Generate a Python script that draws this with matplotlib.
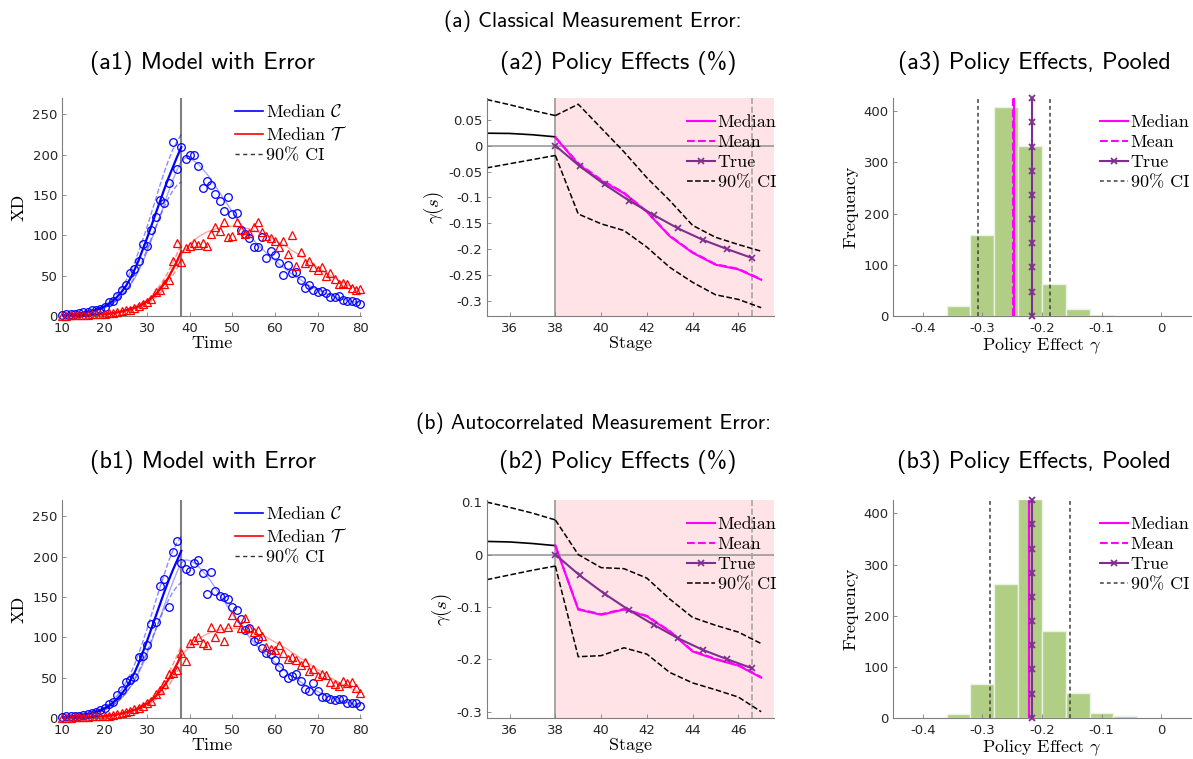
import numpy as np
import matplotlib
matplotlib.use('Agg')
import matplotlib.pyplot as plt
from matplotlib.lines import Line2D

plt.rcParams['mathtext.fontset'] = 'cm'
plt.rcParams['axes.unicode_minus'] = False

# ---------------- data ----------------
time = np.arange(10, 81)
time_pre = np.arange(10, 39)

# (a1) observed with classical error
a1_obs_c = [1, 2, 2, 3, 4, 5, 5, 7, 8, 9,
            11, 17, 19, 25, 32, 38, 53, 58, 68, 89,
            87, 107, 122, 144, 140, 165, 215, 182, 209, 195,
            200, 199, 186, 158, 167, 162, 151, 143, 130, 147,
            126, 127, 106, 101, 96, 86, 86, 98, 72, 81,
            75, 65, 51, 63, 53, 55, 44, 35, 38, 32,
            30, 31, 29, 24, 24, 25, 20, 19, 19, 17, 15]
a1_obs_t = [0, 0, 1, 1, 1, 1, 1, 2, 2, 2,
            3, 4, 4, 5, 6, 7, 8, 10, 12, 15,
            17, 21, 30, 32, 40, 44, 68, 91, 67, 84,
            87, 91, 88, 90, 87, 101, 110, 105, 116, 98,
            99, 117, 107, 102, 103, 110, 117, 104, 99, 97,
            93, 85, 93, 77, 100, 62, 79, 65, 68, 61,
            57, 61, 50, 53, 46, 40, 41, 39, 35, 32, 33]
# (b1) observed with autocorrelated error
b1_obs_c = [1, 2, 2, 2, 3, 4, 5, 6, 7, 10,
            13, 17, 20, 28, 35, 45, 47, 51, 76, 77,
            90, 116, 119, 164, 172, 137, 206, 219, 192, 185,
            182, 192, 196, 179, 154, 181, 157, 151, 150, 147,
            138, 134, 123, 109, 112, 95, 98, 87, 81, 79,
            72, 63, 56, 49, 52, 55, 46, 36, 34, 43,
            34, 26, 26, 23, 22, 23, 24, 19, 19, 18, 15]
b1_obs_t = [0, 0, 0, 1, 1, 1, 1, 2, 2, 2,
            3, 3, 4, 5, 6, 7, 9, 11, 13, 15,
            18, 21, 30, 35, 42, 55, 56, 60, 80, 70,
            93, 97, 100, 93, 90, 113, 100, 112, 96, 113,
            127, 119, 112, 124, 111, 107, 109, 102, 88, 86,
            84, 91, 80, 73, 75, 72, 66, 69, 58, 61,
            52, 54, 53, 44, 42, 40, 46, 43, 44, 37, 31]

# true paths (light curves)
true_c = [1, 1, 2, 2, 3, 4, 4, 5, 7, 8,
          10, 13, 16, 20, 25, 31, 38, 46, 56, 67,
          80, 94, 109, 124, 139, 154, 168, 181, 192, 196,
          195, 192, 188, 182, 176, 169, 161, 153, 145, 137,
          129, 121, 114, 107, 100, 94, 88, 83, 78, 73,
          69, 64, 60, 56, 52, 48, 45, 41, 38, 35,
          33, 30, 28, 26, 24, 22, 21, 19, 18, 17, 16]
true_t = [0, 0, 0, 0.5, 0.5, 0.5, 1, 1, 1, 1.5,
          2, 2.5, 3, 4, 5, 6, 7, 9, 11, 14,
          17, 21, 26, 32, 39, 47, 56, 66, 76, 83,
          89, 94, 98, 101, 104, 106, 108, 109, 110, 111,
          111, 111, 110, 109, 108, 106, 104, 102, 100, 97,
          94, 91, 88, 85, 81, 78, 74, 71, 67, 64,
          60, 57, 53, 50, 47, 44, 41, 39, 36, 34, 32]

# pre-period medians and 90% CIs (t = 10..38)
a1_med_c = [1, 1.5, 2, 2.5, 3, 4, 5, 6, 7.5, 9.5,
            12, 15, 19, 24, 30, 37, 46, 57, 69, 83,
            97, 112, 127, 142, 157, 171, 184, 197, 209]
a1_up_c = [1.5, 2, 2.5, 3, 4, 5, 6, 7.5, 9, 11,
           14, 17, 22, 28, 35, 44, 54, 66, 80, 95,
           111, 128, 145, 162, 178, 193, 206, 216, 225]
a1_lo_c = [0.5, 1, 1.5, 2, 2.5, 3, 4, 5, 6, 8,
           10, 13, 16, 20, 25, 31, 39, 48, 58, 70,
           83, 97, 110, 123, 135, 146, 155, 162, 166]
a1_med_t = [0, 0, 0, 0.5, 0.5, 1, 1, 1, 1.5, 2,
            2, 3, 3.5, 4.5, 5.5, 7, 8.5, 10, 12, 15,
            18, 22, 27, 33, 40, 48, 58, 68, 80]
a1_up_t = [0, 0.5, 0.5, 1, 1, 1.5, 1.5, 2, 2, 2.5,
           3, 3.5, 4, 5, 6.5, 8, 10, 12, 14, 17,
           20, 25, 31, 38, 46, 55, 66, 77, 89]
a1_lo_t = [0, 0, 0, 0, 0.5, 0.5, 0.5, 1, 1, 1.5,
           1.5, 2, 3, 4, 5, 6, 7, 8, 10, 13,
           16, 19, 23, 28, 34, 41, 50, 59, 69]

b1_med_c = [1, 1.5, 2, 2.5, 3, 4, 5, 6, 7.5, 9.5,
            12, 15, 19, 24, 30, 37, 46, 56, 68, 82,
            96, 111, 126, 141, 156, 170, 183, 195, 207]
b1_up_c = [1.5, 2, 2.5, 3, 4, 5, 6, 7.5, 9, 11,
           14, 17, 22, 28, 35, 44, 54, 66, 80, 95,
           111, 128, 145, 162, 178, 194, 207, 217, 225]
b1_lo_c = [0.5, 1, 1.5, 2, 2.5, 3, 4, 5, 6, 8,
           10, 13, 16, 20, 25, 31, 39, 48, 58, 70,
           83, 97, 110, 123, 135, 146, 156, 163, 168]
b1_med_t = [0, 0, 0, 0.5, 0.5, 1, 1, 1, 1.5, 2,
            2, 3, 3.5, 4.5, 5.5, 7, 8.5, 10, 12, 15,
            18, 22, 27, 33, 40, 48, 57, 67, 78]
b1_up_t = a1_up_t
b1_lo_t = [0, 0, 0, 0, 0.5, 0.5, 0.5, 1, 1, 1.5,
           1.5, 2, 3, 4, 5, 6, 7, 8, 10, 13,
           16, 19, 23, 28, 33, 40, 48, 57, 67]

# (a2)/(b2) policy effects by stage
stage_pre = [35, 36, 37, 38]
stage_post = [38, 39, 40, 41, 42, 43, 44, 45, 46, 47]
true_stage = [38, 39.07, 40.15, 41.22, 42.3, 43.37, 44.45, 45.52, 46.6]
true_gamma = [0, -0.04, -0.075, -0.106, -0.134, -0.16, -0.182, -0.2, -0.217]

a2_pre_med = [0.024, 0.0235, 0.021, 0.017]
a2_pre_up = [0.089, 0.079, 0.068, 0.058]
a2_pre_lo = [-0.043, -0.035, -0.027, -0.019]
a2_med = [0.016, -0.036, -0.068, -0.092, -0.128, -0.175, -0.207, -0.23, -0.239, -0.259]
a2_mean = [0.016, -0.034, -0.066, -0.091, -0.127, -0.174, -0.206, -0.229, -0.238, -0.258]
a2_up = [0.058, 0.080, 0.034, -0.012, -0.062, -0.106, -0.154, -0.177, -0.191, -0.204]
a2_lo = [-0.019, -0.132, -0.151, -0.164, -0.196, -0.235, -0.264, -0.288, -0.297, -0.313]

b2_pre_med = [0.025, 0.024, 0.021, 0.017]
b2_pre_up = [0.1, 0.09, 0.079, 0.066]
b2_pre_lo = [-0.048, -0.039, -0.030, -0.022]
b2_med = [0.017, -0.105, -0.115, -0.105, -0.118, -0.147, -0.185, -0.2, -0.212, -0.235]
b2_mean = [0.017, -0.104, -0.114, -0.104, -0.117, -0.146, -0.184, -0.199, -0.211, -0.234]
b2_up = [0.066, 0.0, -0.025, -0.027, -0.045, -0.085, -0.12, -0.135, -0.148, -0.17]
b2_lo = [-0.022, -0.195, -0.193, -0.178, -0.19, -0.225, -0.245, -0.258, -0.272, -0.30]

# (a3)/(b3) pooled histograms
a3_edges = [-0.36, -0.32, -0.28, -0.24, -0.20, -0.16, -0.12, -0.08]
a3_counts = [20, 158, 408, 333, 62, 13, 1]
b3_edges = [-0.36, -0.32, -0.28, -0.24, -0.20, -0.16, -0.12, -0.08, -0.04]
b3_counts = [8, 66, 262, 428, 171, 48, 9, 3]
a3_stats = {'median': -0.2465, 'mean': -0.248, 'true': -0.216, 'ci': (-0.308, -0.186)}
b3_stats = {'median': -0.2225, 'mean': -0.221, 'true': -0.216, 'ci': (-0.288, -0.153)}
hist_true_y = [0, 47, 95, 142, 189, 237, 284, 331, 379, 426]

# ---------------- style ----------------
BLUE = (0, 0, 1)
RED = (1, 0, 0)
MAG = (1, 0, 1)
PURP = (0.494, 0.184, 0.556)
GREEN = (0.69, 0.81, 0.52)
PINK = (1.0, 0.89, 0.90)
AXC = '#262626'
SERIF = 'cmr10'
SANS = 'cmss10'

fig = plt.figure(figsize=(11.93, 7.59), dpi=100)
col_l = [0.052, 0.408, 0.7485]
col_w = [0.2506, 0.2406, 0.2498]
row_b = [0.5837, 0.054]
row_h = 0.2872


def style_ax(ax):
    for s in ['top', 'right']:
        ax.spines[s].set_visible(False)
    for s in ['left', 'bottom']:
        ax.spines[s].set_color('#7f7f7f')
        ax.spines[s].set_linewidth(0.8)
    ax.tick_params(direction='in', length=3, width=0.6, color='#7f7f7f',
                   labelsize=9.5, labelcolor=AXC)
    ax.tick_params(axis='x', pad=4.5)
    ax.tick_params(axis='y', pad=3)


def gfmt(v, pos):
    return '%g' % round(v, 3)


def legend_at(ax, handles, x, y):
    ax.legend(handles=handles, loc='upper left', bbox_to_anchor=(x, y),
              frameon=False, prop={'family': SERIF, 'size': 13},
              handlelength=1.55, handletextpad=0.15, labelspacing=0.24,
              borderpad=0, borderaxespad=0)


def panel_model(ax, obs_c, obs_t, med_c, up_c, lo_c, med_t, up_t, lo_t):
    ax.axvline(38, color=(0.5, 0.5, 0.5), lw=1.5, zorder=1)
    ax.plot(time, true_c, color=BLUE, lw=1, alpha=0.35, zorder=2)
    ax.plot(time, true_t, color=RED, lw=1, alpha=0.35, zorder=2)
    ax.plot(time_pre, up_c, '--', color=BLUE, lw=1, alpha=0.45, zorder=2)
    ax.plot(time_pre, lo_c, '--', color=BLUE, lw=1, alpha=0.45, zorder=2)
    ax.plot(time_pre, up_t, '--', color=RED, lw=1, alpha=0.45, zorder=2)
    ax.plot(time_pre, lo_t, '--', color=RED, lw=1, alpha=0.45, zorder=2)
    ax.plot(time_pre, med_c, color=BLUE, lw=1.6, zorder=3)
    ax.plot(time_pre, med_t, color=RED, lw=1.6, zorder=3)
    ax.plot(time, obs_c, 'o', mfc='none', mec=BLUE, ms=5.5, mew=0.9,
            clip_on=False, zorder=4)
    ax.plot(time, obs_t, '^', mfc='none', mec=RED, ms=6, mew=0.9,
            clip_on=False, zorder=4)
    ax.set_xlim(10, 80.2)
    ax.set_ylim(0, 270)
    ax.set_xticks(range(10, 81, 10))
    ax.set_yticks(range(0, 251, 50))
    ax.set_xlabel('Time', family=SERIF, fontsize=13, labelpad=0)
    ax.set_ylabel('XD', family=SERIF, fontsize=13, labelpad=4)
    handles = [Line2D([], [], color=BLUE, lw=1.2, label=r'Median $\mathcal{C}$'),
               Line2D([], [], color=RED, lw=1.2, label=r'Median $\mathcal{T}$'),
               Line2D([], [], color='#333333', lw=1, ls=(0, (3, 2.5)), label='90% CI')]
    style_ax(ax)
    return handles


def panel_effect(ax, pre_med, pre_up, pre_lo, med, mean, up, lo, ylim, yticks):
    ax.axvspan(38, 47.55, color=PINK, lw=0, zorder=0)
    ax.axhline(0, color=(0.6, 0.6, 0.6), lw=1.2, zorder=1)
    ax.axvline(38, color=(0.6, 0.6, 0.6), lw=1.2, zorder=1)
    ax.axvline(true_stage[-1], color=(0.65, 0.65, 0.65), lw=1.2, ls='--', zorder=1)
    ax.plot(stage_pre, pre_med, color='k', lw=1.2, zorder=2)
    ax.plot(stage_pre, pre_up, '--', color='k', lw=1.1, zorder=2)
    ax.plot(stage_pre, pre_lo, '--', color='k', lw=1.1, zorder=2)
    ax.plot(stage_post, up, '--', color='k', lw=1.1, zorder=2)
    ax.plot(stage_post, lo, '--', color='k', lw=1.1, zorder=2)
    ax.plot(stage_post, med, color=MAG, lw=1.5, zorder=3)
    ax.plot(stage_post, mean, '--', color=MAG, lw=1.5, zorder=3)
    ax.plot(true_stage, true_gamma, color=PURP, lw=1.5, marker='x', ms=5,
            mew=1.2, zorder=4)
    ax.set_xlim(35, 47.55)
    ax.set_ylim(*ylim)
    ax.set_xticks(range(36, 47, 2))
    ax.set_yticks(yticks)
    ax.yaxis.set_major_formatter(plt.FuncFormatter(gfmt))
    ax.set_xlabel('Stage', family=SERIF, fontsize=13, labelpad=0)
    ax.set_ylabel(r'$\gamma(s)$', fontsize=13.5, labelpad=2)
    handles = [Line2D([], [], color=MAG, lw=1.5, label='Median'),
               Line2D([], [], color=MAG, lw=1.5, ls='--', label='Mean'),
               Line2D([], [], color=PURP, lw=1.5, marker='x', ms=5, mew=1.2, label='True'),
               Line2D([], [], color='k', lw=1.1, ls='--', label='90% CI')]
    style_ax(ax)
    return handles


def panel_hist(ax, edges, counts, st):
    widths = np.diff(edges)
    ax.bar(edges[:-1], counts, width=widths, align='edge', color=GREEN,
           edgecolor=(0.93, 0.95, 0.90), lw=1, zorder=1)
    for c in st['ci']:
        ax.axvline(c, color='#404040', lw=1.1, ls=(0, (2.5, 2)), zorder=2)
    ax.axvline(st['median'], color=MAG, lw=1.5, zorder=3)
    ax.axvline(st['mean'], color=MAG, lw=1.5, ls='--', zorder=3)
    ax.plot([st['true']] * len(hist_true_y), hist_true_y, color=PURP, lw=1.5,
            marker='x', ms=4, mew=1.3, clip_on=False, zorder=4)
    ax.set_xlim(-0.45, 0.05)
    ax.set_ylim(0, 426)
    ax.set_xticks([-0.4, -0.3, -0.2, -0.1, 0])
    ax.set_yticks([0, 100, 200, 300, 400])
    ax.xaxis.set_major_formatter(plt.FuncFormatter(gfmt))
    ax.set_xlabel(r'Policy Effect $\gamma$', family=SERIF, fontsize=13, labelpad=0)
    ax.set_ylabel('Frequency', family=SERIF, fontsize=13, labelpad=4)
    handles = [Line2D([], [], color=MAG, lw=1.5, label='Median'),
               Line2D([], [], color=MAG, lw=1.5, ls='--', label='Mean'),
               Line2D([], [], color=PURP, lw=1.5, marker='x', ms=4, mew=1.3, label='True'),
               Line2D([], [], color='#404040', lw=1.1, ls=(0, (2.5, 2)), label='90% CI')]
    style_ax(ax)
    return handles


axs = [[fig.add_axes([col_l[c], row_b[r], col_w[c], row_h]) for c in range(3)]
       for r in range(2)]

h = panel_model(axs[0][0], a1_obs_c, a1_obs_t, a1_med_c, a1_up_c, a1_lo_c,
                a1_med_t, a1_up_t, a1_lo_t)
legend_at(axs[0][0], h, 0.578, 0.975)
h = panel_model(axs[1][0], b1_obs_c, b1_obs_t, b1_med_c, b1_up_c, b1_lo_c,
                b1_med_t, b1_up_t, b1_lo_t)
legend_at(axs[1][0], h, 0.578, 0.975)

h = panel_effect(axs[0][1], a2_pre_med, a2_pre_up, a2_pre_lo, a2_med, a2_mean,
                 a2_up, a2_lo, (-0.329, 0.092),
                 [-0.3, -0.25, -0.2, -0.15, -0.1, -0.05, 0, 0.05])
legend_at(axs[0][1], h, 0.697, 0.925)
h = panel_effect(axs[1][1], b2_pre_med, b2_pre_up, b2_pre_lo, b2_med, b2_mean,
                 b2_up, b2_lo, (-0.312, 0.104), [-0.3, -0.2, -0.1, 0, 0.1])
legend_at(axs[1][1], h, 0.697, 0.925)

h = panel_hist(axs[0][2], a3_edges, a3_counts, a3_stats)
legend_at(axs[0][2], h, 0.695, 0.925)
h = panel_hist(axs[1][2], b3_edges, b3_counts, b3_stats)
legend_at(axs[1][2], h, 0.695, 0.925)

# titles
W, H = 1193.0, 759.0
tkw = dict(family=SANS, ha='center', va='center', color='k')
fig.text(593 / W, 1 - 21 / H, '(a) Classical Measurement Error:', fontsize=15.5, **tkw)
fig.text(593 / W, 1 - 423 / H, '(b) Autocorrelated Measurement Error:', fontsize=15.5, **tkw)
for r, y in enumerate([63, 462]):
    tag = 'ab'[r]
    fig.text(203 / W, 1 - y / H, '(%s1) Model with Error' % tag, fontsize=17.5, **tkw)
    fig.text(618 / W, 1 - y / H, '(%s2) Policy Effects (%%)' % tag, fontsize=17.5, **tkw)
    fig.text(1034 / W, 1 - y / H, '(%s3) Policy Effects, Pooled' % tag, fontsize=17.5, **tkw)

fig.savefig('out.png', dpi=100)
